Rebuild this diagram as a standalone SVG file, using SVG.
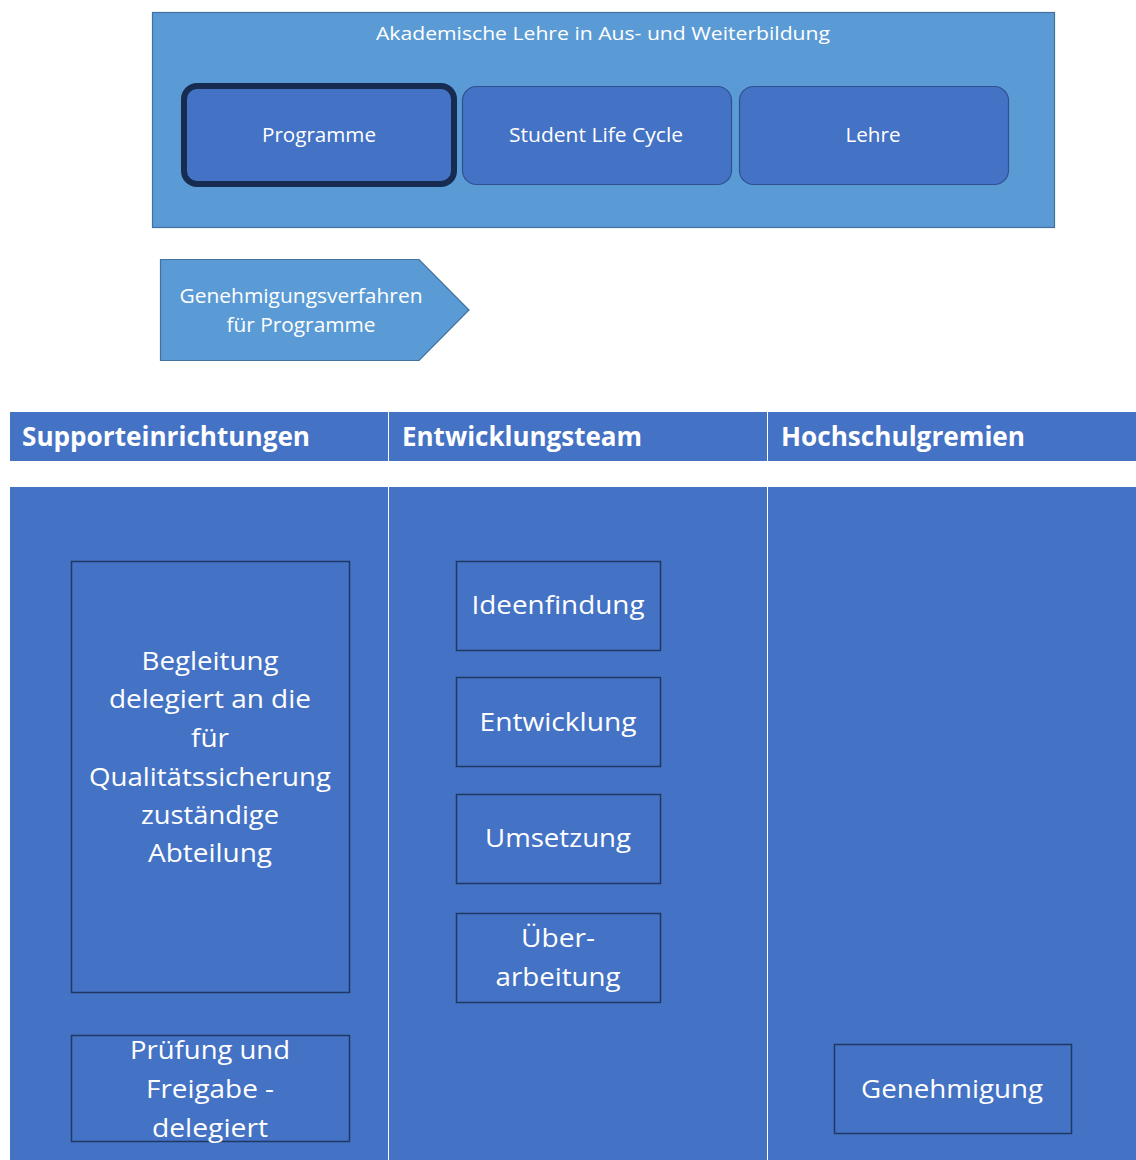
<svg xmlns="http://www.w3.org/2000/svg" width="1136" height="1160" viewBox="0 0 1136 1160">
<style>
.t{font-family:"Open Sans","Noto Sans",sans-serif;fill:#fff;text-anchor:middle}
.s{font-size:19px}
.m{font-size:20px}
.b{font-size:26px}
.h{font-family:"Open Sans","Noto Sans",sans-serif;fill:#fff;font-size:26px;font-weight:bold}
.lane{fill:#4472C4}
.box{fill:#4472C4;stroke:#203864;stroke-width:1.5}
.rb{fill:#4472C4;stroke:#2F528F;stroke-width:1.2}
</style>
<rect width="1136" height="1160" fill="#fff"/>
<g id="outer">
<rect x="152.5" y="12.5" width="902" height="215" fill="#5B9BD5" stroke="#41719C" stroke-width="1.2"/>
<text class="t s" x="603" y="40" textLength="454" lengthAdjust="spacingAndGlyphs">Akademische Lehre in Aus- und Weiterbildung</text>
</g>
<g id="programme">
<rect x="184" y="86" width="270" height="98" rx="13" fill="#4472C4" stroke="#172C51" stroke-width="6"/>
<text class="t m" x="319" y="142" textLength="114" lengthAdjust="spacingAndGlyphs">Programme</text>
</g>
<g id="slc">
<rect x="462.5" y="86.5" width="269" height="98" rx="14" class="rb"/>
<text class="t m" x="596" y="142" textLength="174" lengthAdjust="spacingAndGlyphs">Student Life Cycle</text>
</g>
<g id="lehre">
<rect x="739.5" y="86.5" width="269" height="98" rx="14" class="rb"/>
<text class="t m" x="873" y="142" textLength="55" lengthAdjust="spacingAndGlyphs">Lehre</text>
</g>
<g id="verfahren">
<polygon points="160.5,259.5 419,259.5 469,310 419,360.5 160.5,360.5" fill="#5B9BD5" stroke="#41719C" stroke-width="1.2"/>
<text class="t m" x="301" y="303" textLength="243" lengthAdjust="spacingAndGlyphs">Genehmigungsverfahren</text>
<text class="t m" x="301" y="332" textLength="149" lengthAdjust="spacingAndGlyphs">für Programme</text>
</g>
<g id="lanes">
<rect class="lane" x="10" y="412" width="378" height="49"/>
<rect class="lane" x="389" y="412" width="378" height="49"/>
<rect class="lane" x="768" y="412" width="368" height="49"/>
<rect class="lane" x="10" y="487" width="378" height="673"/>
<rect class="lane" x="389" y="487" width="378" height="673"/>
<rect class="lane" x="768" y="487" width="368" height="673"/>
<text class="h" x="22" y="446" textLength="288" lengthAdjust="spacingAndGlyphs">Supporteinrichtungen</text>
<text class="h" x="402" y="446" textLength="240" lengthAdjust="spacingAndGlyphs">Entwicklungsteam</text>
<text class="h" x="781" y="446" textLength="244" lengthAdjust="spacingAndGlyphs">Hochschulgremien</text>
</g>
<g id="begleitung">
<rect class="box" x="71.5" y="561.5" width="278" height="431"/>
<text class="t b" x="210" y="670" textLength="137" lengthAdjust="spacingAndGlyphs">Begleitung</text>
<text class="t b" x="210" y="708" textLength="202" lengthAdjust="spacingAndGlyphs">delegiert an die</text>
<text class="t b" x="210" y="747" textLength="38" lengthAdjust="spacingAndGlyphs">für</text>
<text class="t b" x="210" y="786" textLength="242" lengthAdjust="spacingAndGlyphs">Qualitätssicherung</text>
<text class="t b" x="210" y="824" textLength="138" lengthAdjust="spacingAndGlyphs">zuständige</text>
<text class="t b" x="210" y="862" textLength="124" lengthAdjust="spacingAndGlyphs">Abteilung</text>
</g>
<g id="pruefung">
<rect class="box" x="71.5" y="1035.5" width="278" height="106"/>
<text class="t b" x="210" y="1059" textLength="160" lengthAdjust="spacingAndGlyphs">Prüfung und</text>
<text class="t b" x="210" y="1098" textLength="128" lengthAdjust="spacingAndGlyphs">Freigabe -</text>
<text class="t b" x="210" y="1137" textLength="116" lengthAdjust="spacingAndGlyphs">delegiert</text>
</g>
<g id="ideen">
<rect class="box" x="456.5" y="561.5" width="204" height="89"/>
<text class="t b" x="558" y="614" textLength="173" lengthAdjust="spacingAndGlyphs">Ideenfindung</text>
</g>
<g id="entwicklung">
<rect class="box" x="456.5" y="677.5" width="204" height="89"/>
<text class="t b" x="558" y="731" textLength="157" lengthAdjust="spacingAndGlyphs">Entwicklung</text>
</g>
<g id="umsetzung">
<rect class="box" x="456.5" y="794.5" width="204" height="89"/>
<text class="t b" x="558" y="847" textLength="146" lengthAdjust="spacingAndGlyphs">Umsetzung</text>
</g>
<g id="ueberarbeitung">
<rect class="box" x="456.5" y="913.5" width="204" height="89"/>
<text class="t b" x="558" y="947" textLength="74" lengthAdjust="spacingAndGlyphs">Über-</text>
<text class="t b" x="558" y="986" textLength="125" lengthAdjust="spacingAndGlyphs">arbeitung</text>
</g>
<g id="genehmigung">
<rect class="box" x="834.5" y="1044.5" width="237" height="89"/>
<text class="t b" x="952" y="1098" textLength="182" lengthAdjust="spacingAndGlyphs">Genehmigung</text>
</g>
<g id="connectors"></g>
</svg>
